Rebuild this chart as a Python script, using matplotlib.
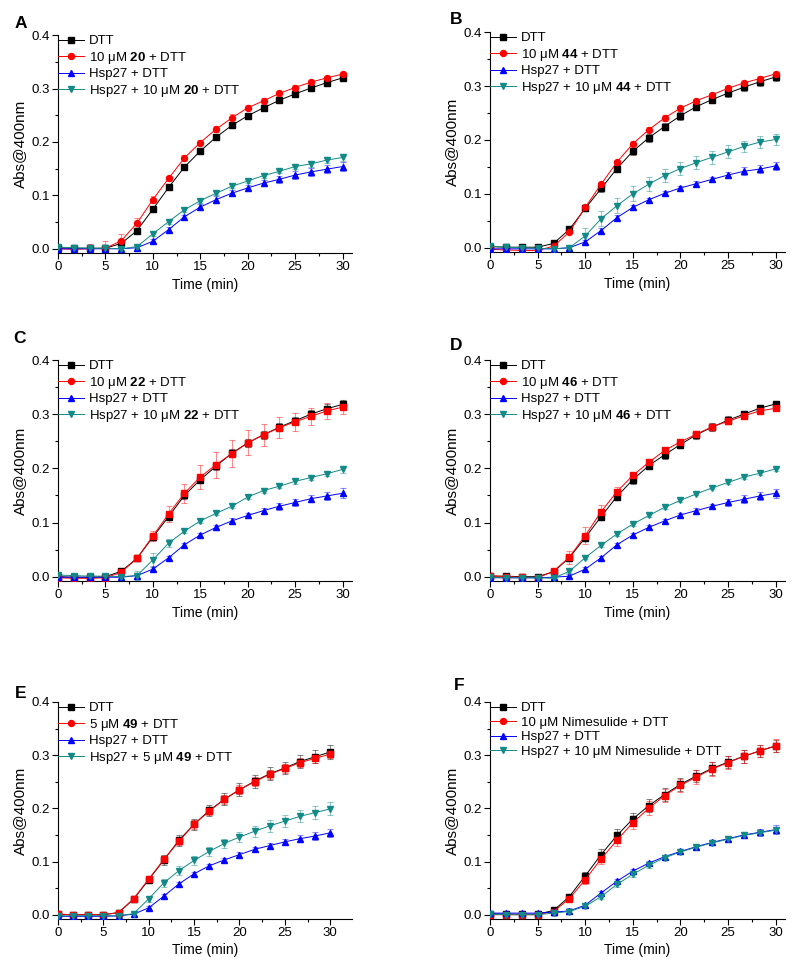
import matplotlib
matplotlib.use('Agg')
import matplotlib.pyplot as plt
from matplotlib.ticker import MultipleLocator
import numpy as np

plt.rcParams['font.family'] = ['Liberation Sans', 'DejaVu Sans']
plt.rcParams['mathtext.fontset'] = 'custom'
plt.rcParams['mathtext.rm'] = 'Liberation Sans'
plt.rcParams['mathtext.bf'] = 'Liberation Sans:bold'

# time points (min)
time = [0, 1.67, 3.33, 5, 6.67, 8.33, 10, 11.67, 13.33, 15, 16.67, 18.33, 20, 21.67, 23.33, 25, 26.67, 28.33, 30]

# ---- panel A (compound 20)
a_dtt = [0.002, 0.001, 0.001, 0.001, 0.010, 0.034, 0.074, 0.115, 0.153, 0.183, 0.209, 0.231, 0.249, 0.264, 0.278, 0.290, 0.301, 0.311, 0.320]
a_dtt_err = [0.002, 0.002, 0.002, 0.002, 0.003, 0.004, 0.004, 0.004, 0.004, 0.004, 0.004, 0.004, 0.004, 0.004, 0.004, 0.004, 0.004, 0.004, 0.004]
a_cmp = [0.000, -0.001, 0.000, 0.001, 0.015, 0.048, 0.092, 0.132, 0.170, 0.199, 0.224, 0.245, 0.264, 0.277, 0.291, 0.302, 0.312, 0.320, 0.327]
a_cmp_err = [0.005, 0.006, 0.008, 0.013, 0.012, 0.010, 0.006, 0.005, 0.005, 0.005, 0.005, 0.007, 0.005, 0.005, 0.004, 0.004, 0.004, 0.004, 0.004]
a_hsp = [0.000, 0.000, 0.000, 0.000, 0.000, 0.002, 0.014, 0.036, 0.060, 0.078, 0.092, 0.104, 0.114, 0.123, 0.130, 0.138, 0.144, 0.149, 0.154]
a_hsp_err = [0.003, 0.003, 0.003, 0.003, 0.003, 0.004, 0.004, 0.004, 0.004, 0.005, 0.006, 0.006, 0.006, 0.006, 0.007, 0.007, 0.008, 0.008, 0.009]
a_mix = [0.003, 0.002, 0.001, 0.001, 0.000, 0.004, 0.028, 0.051, 0.073, 0.090, 0.104, 0.117, 0.127, 0.137, 0.145, 0.154, 0.159, 0.166, 0.171]
a_mix_err = [0.003, 0.003, 0.003, 0.003, 0.003, 0.004, 0.004, 0.004, 0.004, 0.004, 0.004, 0.004, 0.004, 0.004, 0.004, 0.005, 0.005, 0.005, 0.006]

# ---- panel B (compound 44)
b_dtt = [0.002, 0.001, 0.001, 0.001, 0.008, 0.034, 0.073, 0.110, 0.147, 0.179, 0.204, 0.225, 0.245, 0.262, 0.275, 0.287, 0.298, 0.308, 0.317]
b_dtt_err = [0.003, 0.003, 0.003, 0.003, 0.004, 0.004, 0.005, 0.006, 0.006, 0.007, 0.007, 0.007, 0.007, 0.007, 0.007, 0.007, 0.007, 0.007, 0.007]
b_cmp = [-0.003, -0.004, -0.005, -0.005, 0.003, 0.029, 0.075, 0.118, 0.159, 0.193, 0.219, 0.241, 0.259, 0.273, 0.284, 0.296, 0.306, 0.314, 0.323]
b_cmp_err = [0.003, 0.003, 0.003, 0.003, 0.004, 0.004, 0.004, 0.004, 0.004, 0.005, 0.005, 0.005, 0.005, 0.004, 0.004, 0.004, 0.004, 0.004, 0.004]
b_hsp = [-0.002, -0.002, -0.002, -0.002, -0.002, 0.000, 0.011, 0.032, 0.056, 0.075, 0.089, 0.101, 0.111, 0.119, 0.127, 0.135, 0.142, 0.146, 0.152]
b_hsp_err = [0.003, 0.003, 0.003, 0.003, 0.003, 0.004, 0.004, 0.004, 0.004, 0.004, 0.004, 0.004, 0.004, 0.004, 0.005, 0.006, 0.007, 0.008, 0.008]
b_mix = [0.003, 0.001, 0.000, -0.001, -0.002, 0.000, 0.022, 0.054, 0.078, 0.100, 0.118, 0.134, 0.147, 0.158, 0.168, 0.178, 0.188, 0.196, 0.201]
b_mix_err = [0.003, 0.003, 0.003, 0.003, 0.004, 0.006, 0.015, 0.014, 0.014, 0.014, 0.013, 0.012, 0.012, 0.012, 0.012, 0.012, 0.011, 0.011, 0.011]

# ---- panel C (compound 22)
c_dtt = [0.000, -0.001, -0.001, 0.000, 0.010, 0.034, 0.073, 0.111, 0.150, 0.179, 0.204, 0.228, 0.247, 0.262, 0.276, 0.288, 0.300, 0.310, 0.318]
c_dtt_err = [0.003, 0.003, 0.003, 0.003, 0.003, 0.004, 0.004, 0.005, 0.006, 0.006, 0.007, 0.007, 0.007, 0.007, 0.007, 0.007, 0.007, 0.008, 0.008]
c_cmp = [-0.002, -0.003, -0.003, -0.002, 0.008, 0.034, 0.075, 0.116, 0.154, 0.184, 0.207, 0.227, 0.247, 0.262, 0.275, 0.286, 0.296, 0.306, 0.313]
c_cmp_err = [0.003, 0.003, 0.003, 0.003, 0.003, 0.004, 0.010, 0.015, 0.018, 0.022, 0.024, 0.025, 0.023, 0.020, 0.019, 0.017, 0.016, 0.014, 0.012]
c_hsp = [-0.001, -0.001, -0.001, -0.001, -0.001, 0.002, 0.014, 0.035, 0.059, 0.077, 0.091, 0.103, 0.113, 0.122, 0.130, 0.137, 0.144, 0.149, 0.154]
c_hsp_err = [0.003, 0.003, 0.003, 0.003, 0.003, 0.004, 0.004, 0.004, 0.004, 0.004, 0.005, 0.005, 0.005, 0.005, 0.006, 0.006, 0.007, 0.008, 0.009]
c_mix = [0.003, 0.002, 0.001, 0.001, 0.000, 0.002, 0.031, 0.062, 0.084, 0.103, 0.117, 0.130, 0.147, 0.159, 0.167, 0.176, 0.183, 0.190, 0.198]
c_mix_err = [0.003, 0.003, 0.003, 0.003, 0.004, 0.008, 0.012, 0.008, 0.004, 0.004, 0.004, 0.004, 0.004, 0.004, 0.004, 0.004, 0.005, 0.005, 0.006]

# ---- panel D (compound 46)
d_dtt = [0.001, 0.001, 0.000, 0.000, 0.009, 0.035, 0.072, 0.111, 0.148, 0.179, 0.205, 0.225, 0.244, 0.262, 0.276, 0.289, 0.300, 0.311, 0.319]
d_dtt_err = [0.003, 0.003, 0.003, 0.003, 0.004, 0.005, 0.006, 0.006, 0.007, 0.007, 0.007, 0.007, 0.007, 0.007, 0.007, 0.007, 0.006, 0.006, 0.006]
d_cmp = [0.002, 0.000, -0.001, -0.002, 0.010, 0.036, 0.076, 0.120, 0.157, 0.187, 0.211, 0.233, 0.249, 0.263, 0.277, 0.287, 0.297, 0.306, 0.311]
d_cmp_err = [0.003, 0.003, 0.003, 0.003, 0.004, 0.012, 0.016, 0.012, 0.009, 0.005, 0.005, 0.005, 0.005, 0.005, 0.005, 0.005, 0.005, 0.004, 0.004]
d_hsp = [-0.002, -0.002, -0.002, -0.002, -0.001, 0.001, 0.014, 0.035, 0.059, 0.077, 0.091, 0.103, 0.114, 0.122, 0.130, 0.137, 0.143, 0.149, 0.154]
d_hsp_err = [0.003, 0.003, 0.003, 0.003, 0.003, 0.004, 0.004, 0.004, 0.004, 0.004, 0.004, 0.004, 0.004, 0.004, 0.005, 0.006, 0.007, 0.008, 0.008]
d_mix = [-0.001, -0.002, -0.002, -0.002, -0.003, 0.010, 0.035, 0.058, 0.079, 0.097, 0.113, 0.128, 0.141, 0.153, 0.164, 0.174, 0.184, 0.191, 0.199]
d_mix_err = [0.003, 0.003, 0.003, 0.003, 0.003, 0.003, 0.003, 0.003, 0.003, 0.003, 0.003, 0.003, 0.003, 0.003, 0.003, 0.003, 0.003, 0.004, 0.004]

# ---- panel E (compound 49, 5 uM)
e_dtt = [0.001, 0.000, 0.000, 0.000, 0.004, 0.029, 0.066, 0.103, 0.140, 0.170, 0.196, 0.217, 0.235, 0.251, 0.265, 0.276, 0.288, 0.297, 0.306]
e_dtt_err = [0.003, 0.003, 0.003, 0.003, 0.003, 0.004, 0.006, 0.009, 0.010, 0.010, 0.011, 0.011, 0.012, 0.012, 0.012, 0.012, 0.012, 0.012, 0.013]
e_cmp = [0.001, 0.000, 0.000, 0.000, 0.004, 0.030, 0.067, 0.104, 0.138, 0.170, 0.195, 0.217, 0.235, 0.250, 0.264, 0.275, 0.286, 0.294, 0.302]
e_cmp_err = [0.003, 0.003, 0.003, 0.003, 0.003, 0.004, 0.006, 0.007, 0.007, 0.008, 0.008, 0.008, 0.008, 0.008, 0.008, 0.008, 0.008, 0.008, 0.008]
e_hsp = [-0.003, -0.003, -0.003, -0.003, -0.002, 0.001, 0.013, 0.035, 0.058, 0.077, 0.092, 0.103, 0.113, 0.123, 0.130, 0.137, 0.143, 0.148, 0.154]
e_hsp_err = [0.003, 0.003, 0.003, 0.003, 0.003, 0.004, 0.004, 0.004, 0.004, 0.004, 0.004, 0.004, 0.004, 0.004, 0.005, 0.006, 0.007, 0.008, 0.008]
e_mix = [-0.002, -0.002, -0.002, -0.002, -0.002, 0.002, 0.030, 0.060, 0.083, 0.102, 0.119, 0.134, 0.146, 0.157, 0.167, 0.176, 0.185, 0.192, 0.199]
e_mix_err = [0.003, 0.003, 0.003, 0.003, 0.003, 0.004, 0.006, 0.007, 0.008, 0.008, 0.009, 0.009, 0.010, 0.010, 0.011, 0.011, 0.011, 0.012, 0.012]

# ---- panel F (nimesulide)
f_dtt = [0.002, 0.001, 0.001, 0.001, 0.008, 0.034, 0.073, 0.113, 0.149, 0.180, 0.205, 0.226, 0.245, 0.261, 0.275, 0.287, 0.298, 0.308, 0.317]
f_dtt_err = [0.003, 0.003, 0.003, 0.003, 0.004, 0.005, 0.008, 0.010, 0.012, 0.012, 0.012, 0.012, 0.012, 0.012, 0.012, 0.012, 0.012, 0.012, 0.012]
f_cmp = [0.000, 0.000, 0.000, 0.000, 0.006, 0.030, 0.066, 0.105, 0.140, 0.173, 0.200, 0.224, 0.243, 0.259, 0.274, 0.286, 0.298, 0.308, 0.318]
f_cmp_err = [0.003, 0.003, 0.003, 0.003, 0.004, 0.005, 0.008, 0.010, 0.011, 0.012, 0.013, 0.013, 0.013, 0.013, 0.013, 0.012, 0.012, 0.012, 0.012]
f_hsp = [0.003, 0.003, 0.003, 0.003, 0.005, 0.007, 0.018, 0.041, 0.063, 0.082, 0.097, 0.109, 0.119, 0.128, 0.136, 0.143, 0.150, 0.155, 0.160]
f_hsp_err = [0.003, 0.003, 0.003, 0.003, 0.003, 0.005, 0.004, 0.004, 0.004, 0.004, 0.004, 0.004, 0.004, 0.004, 0.004, 0.005, 0.006, 0.007, 0.008]
f_mix = [0.001, 0.000, 0.000, 0.000, 0.003, 0.006, 0.016, 0.034, 0.057, 0.076, 0.093, 0.107, 0.118, 0.127, 0.135, 0.142, 0.149, 0.154, 0.159]
f_mix_err = [0.003, 0.003, 0.003, 0.003, 0.006, 0.004, 0.004, 0.004, 0.004, 0.005, 0.005, 0.005, 0.004, 0.004, 0.004, 0.004, 0.004, 0.005, 0.006]

# legend texts
lab_a = ['DTT', r'10 μM $\mathbf{20}$ + DTT', 'Hsp27 + DTT', r'Hsp27 + 10 μM $\mathbf{20}$ + DTT']
lab_b = ['DTT', r'10 μM $\mathbf{44}$ + DTT', 'Hsp27 + DTT', r'Hsp27 + 10 μM $\mathbf{44}$ + DTT']
lab_c = ['DTT', r'10 μM $\mathbf{22}$ + DTT', 'Hsp27 + DTT', r'Hsp27 + 10 μM $\mathbf{22}$ + DTT']
lab_d = ['DTT', r'10 μM $\mathbf{46}$ + DTT', 'Hsp27 + DTT', r'Hsp27 + 10 μM $\mathbf{46}$ + DTT']
lab_e = ['DTT', r'5 μM $\mathbf{49}$ + DTT', 'Hsp27 + DTT', r'Hsp27 + 5 μM $\mathbf{49}$ + DTT']
lab_f = ['DTT', '10 μM Nimesulide + DTT', 'Hsp27 + DTT', 'Hsp27 + 10 μM Nimesulide + DTT']

colors = ['#000000', '#ff0000', '#0000ff', '#128a87']
markers = ['s', 'o', '^', 'v']

# panel: letter, axes rect, xmax, red marker, data, labels, letter pos (px)
panels = [
    ('A', [0.0725, 0.741, 0.3675, 0.223], 31.0, 'o',
     [(a_dtt, a_dtt_err), (a_cmp, a_cmp_err), (a_hsp, a_hsp_err), (a_mix, a_mix_err)], lab_a, (21, 23)),
    ('B', [0.6125, 0.742, 0.369, 0.225], 31.0, 'o',
     [(b_dtt, b_dtt_err), (b_cmp, b_cmp_err), (b_hsp, b_hsp_err), (b_mix, b_mix_err)], lab_b, (456, 19)),
    ('C', [0.0725, 0.4053, 0.3675, 0.2262], 31.0, 's',
     [(c_dtt, c_dtt_err), (c_cmp, c_cmp_err), (c_hsp, c_hsp_err), (c_mix, c_mix_err)], lab_c, (20, 338)),
    ('D', [0.6125, 0.4053, 0.369, 0.2262], 31.0, 's',
     [(d_dtt, d_dtt_err), (d_cmp, d_cmp_err), (d_hsp, d_hsp_err), (d_mix, d_mix_err)], lab_d, (456, 346)),
    ('E', [0.0725, 0.0594, 0.3675, 0.2221], 32.4, 's',
     [(e_dtt, e_dtt_err), (e_cmp, e_cmp_err), (e_hsp, e_hsp_err), (e_mix, e_mix_err)], lab_e, (21, 693)),
    ('F', [0.6125, 0.0594, 0.369, 0.2221], 31.0, 's',
     [(f_dtt, f_dtt_err), (f_cmp, f_cmp_err), (f_hsp, f_hsp_err), (f_mix, f_mix_err)], lab_f, (459, 686)),
]

fig = plt.figure(figsize=(8, 9.77), dpi=100)
ftSize = 9.5

for letter, rect, xmax, red_mk, series, labels, lpos in panels:
    ax = fig.add_axes(rect)
    handles = []
    for i, (y, err) in enumerate(series):
        mk = markers[i]
        if i == 1:
            mk = red_mk
        ax.errorbar(time, y, yerr=err, fmt='none', ecolor=colors[i], alpha=0.45,
                    elinewidth=0.8, capsize=2.2, capthick=0.8, zorder=2)
        ax.plot(time, y, color=colors[i], lw=0.7, marker=mk, ms=4.3, mec=colors[i], zorder=3)
        # legend handle always uses the base marker
        h, = ax.plot([], [], color=colors[i], lw=0.7, marker=markers[i], ms=4.3)
        handles.append(h)
    ax.set_xlim(0, xmax)
    ax.set_ylim(-0.008, 0.4)
    ax.xaxis.set_minor_locator(MultipleLocator(2.5))
    ax.yaxis.set_minor_locator(MultipleLocator(0.05))
    ax.set_xticks([0, 5, 10, 15, 20, 25, 30])
    ax.set_yticks([0.0, 0.1, 0.2, 0.3, 0.4])
    ax.set_yticklabels(['0.0', '0.1', '0.2', '0.3', '0.4'])
    ax.spines['top'].set_visible(False)
    ax.spines['right'].set_visible(False)
    ax.spines['left'].set_linewidth(0.8)
    ax.spines['bottom'].set_linewidth(0.8)
    ax.tick_params(which='major', direction='out', length=4, width=0.8, labelsize=ftSize, pad=2)
    ax.tick_params(which='minor', direction='out', length=2.5, width=0.8)
    ax.set_xlabel('Time (min)', fontsize=10, labelpad=3)
    ax.set_ylabel('Abs@400nm', fontsize=11, labelpad=3)
    ax.legend(handles, labels, loc='upper left', bbox_to_anchor=(0.0, 1.0), frameon=False,
              fontsize=ftSize, handlelength=2.0, handletextpad=0.35, labelspacing=0.18,
              borderaxespad=0.0, borderpad=0.0)
    fig.text(lpos[0] / 800, 1 - lpos[1] / 977, letter, fontsize=12.5, fontweight='bold',
             ha='center', va='center')

plt.savefig('out.png', dpi=100)
